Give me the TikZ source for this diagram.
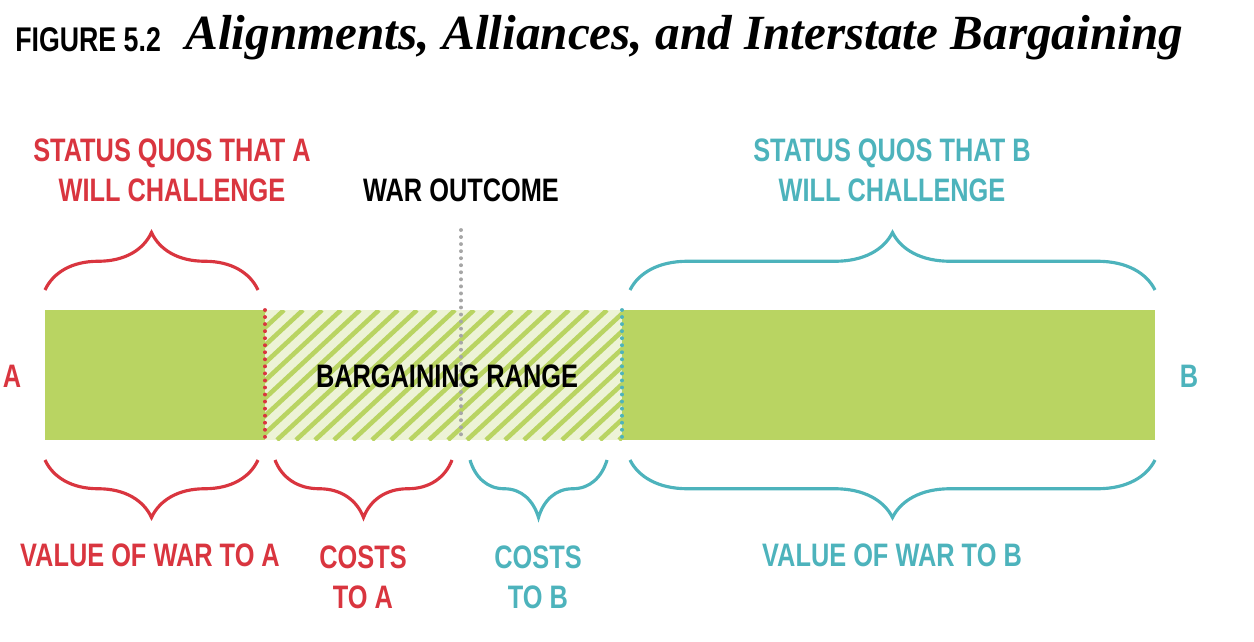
\documentclass[tikz,border=0pt]{standalone}
\usepackage{fontspec}
\setmainfont{Liberation Sans}
\newfontfamily\cond[FakeStretch=0.78]{Liberation Sans}
\newfontfamily\titleserif{Liberation Serif}
\usetikzlibrary{decorations.pathreplacing}
\definecolor{rred}{HTML}{D9353F}
\definecolor{tteal}{HTML}{4DB3BC}
\definecolor{ggreen}{HTML}{B9D462}
\definecolor{lgreen}{HTML}{EDF3D6}
\begin{document}
\begin{tikzpicture}[x=0.02cm,y=-0.02cm,
  lab/.style={font=\cond\bfseries\fontsize{18.5}{22.7}\selectfont,align=center,inner sep=0},
  br/.style={line width=1.8pt,decorate,decoration={brace,amplitude=1.15cm,aspect=0.5}},
  dots/.style={line width=2.2pt,dash pattern=on 0.01pt off 4pt,line cap=round}]
\useasboundingbox (0,0) rectangle (1254,642);
\node[anchor=west,font=\cond\bfseries\fontsize{19.5}{24}\selectfont,inner sep=0] (fig) at (15,40) {FIGURE 5.2};
\node[anchor=west,font=\titleserif\bfseries\itshape\fontsize{28}{32}\selectfont,inner sep=0] (title) at (185,38) {Alignments, Alliances, and Interstate Bargaining};
% bar
\fill[ggreen] (45,310) rectangle (265,440);
\fill[ggreen] (622,310) rectangle (1155,440);
\fill[lgreen] (265,310) rectangle (622,440);
\begin{scope}
\clip (265,310) rectangle (622,440);
\foreach \i in {0,...,30} {\draw[ggreen,line width=2.6pt] (265+\i*19-140,440) -- (265+\i*19,310);}
\end{scope}
\coordinate (r1) at (265,310); \coordinate (r2) at (265,440);
\coordinate (g1) at (461,230); \coordinate (g2) at (461,440);
\coordinate (t1) at (622,310); \coordinate (t2) at (622,440);
\draw[dots,rred] (r1) -- (r2);
\draw[dots,gray!70] (g1) -- (g2);
\draw[dots,tteal] (t1) -- (t2);
\node[lab,text=rred] (A) at (12,376) {A};
\node[lab,text=tteal] (B) at (1189,376) {B};
\node[lab] (range) at (447,376) {BARGAINING RANGE};
\node[lab] (war) at (461,190) {WAR OUTCOME};
\node[lab,text=rred] (sqa) at (172,170) {STATUS QUOS THAT A\\WILL CHALLENGE};
\node[lab,text=tteal] (sqb) at (892,170) {STATUS QUOS THAT B\\WILL CHALLENGE};
\node[lab,text=rred] (va) at (150,555) {VALUE OF WAR TO A};
\node[lab,text=rred] (ca) at (363,577) {COSTS\\TO A};
\node[lab,text=tteal] (cb) at (538,577) {COSTS\\TO B};
\node[lab,text=tteal] (vb) at (892,555) {VALUE OF WAR TO B};
% braces
\coordinate (ta1) at (45,290); \coordinate (ta2) at (258,290);
\coordinate (tb1) at (630,290); \coordinate (tb2) at (1155,290);
\coordinate (b1a) at (45,460); \coordinate (b1b) at (258,460);
\coordinate (b2a) at (275,460); \coordinate (b2b) at (452,460);
\coordinate (b3a) at (470,460); \coordinate (b3b) at (607,460);
\coordinate (b4a) at (630,460); \coordinate (b4b) at (1155,460);
\draw[br,rred] (ta1) -- (ta2);
\draw[br,tteal] (tb1) -- (tb2);
\draw[br,rred] (b1b) -- (b1a);
\draw[br,rred] (b2b) -- (b2a);
\draw[br,tteal] (b3b) -- (b3a);
\draw[br,tteal] (b4b) -- (b4a);
\end{tikzpicture}
\end{document}
